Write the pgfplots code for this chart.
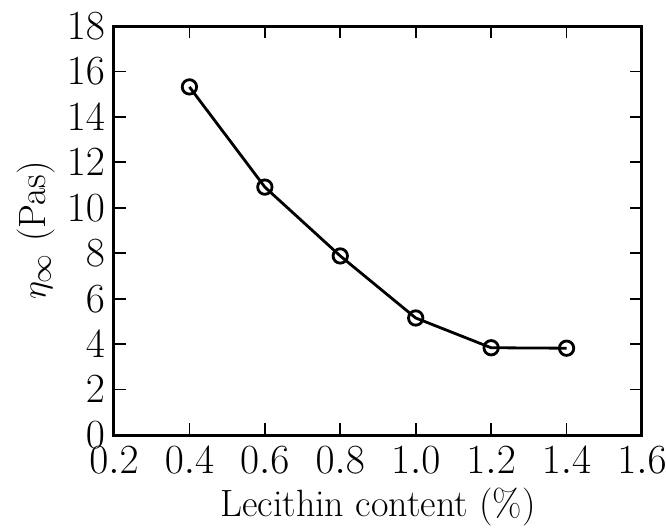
\documentclass[border=0pt]{standalone}
\usepackage{pgfplots}
\pgfplotsset{compat=1.18}
\begin{document}
\begin{tikzpicture}
\path[use as bounding box] (-57pt,-46pt) rectangle (276pt,217.5pt);
\begin{axis}[
  scale only axis,
  width=264pt, height=204.5pt,
  xmin=0.2, xmax=1.6, ymin=0, ymax=18,
  xtick={0.2,0.4,...,1.6},
  ytick={0,2,...,18},
  xticklabel style={yshift=-2.5pt, /pgf/number format/fixed, /pgf/number format/fixed zerofill, /pgf/number format/precision=1},
  yticklabel style={xshift=-1pt},
  tick align=inside,
  major tick length=6pt,
  tick style={black, line width=0.9pt},
  axis line style={line width=1.5pt},
  ticklabel style={font=\fontsize{19.5}{22}\selectfont},
  label style={font=\fontsize{19}{22}\selectfont},
  xlabel={Lecithin content (\%)},
  ylabel={$\eta_\infty$ (Pas)},
  xlabel style={yshift=0pt},
  ylabel style={yshift=-1pt},
]
\addplot[black, line width=1.4pt, mark=o, mark size=3.6pt, mark options={fill=white, line width=1.4pt}]
coordinates {(0.4,15.32) (0.6,10.91) (0.8,7.88) (1.0,5.15) (1.2,3.84) (1.4,3.82)};
\end{axis}
\end{tikzpicture}
\end{document}
